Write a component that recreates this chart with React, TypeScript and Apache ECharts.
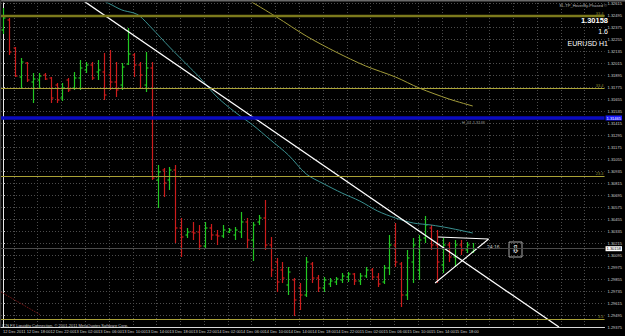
import React, { useEffect, useRef } from 'react';
import * as echarts from 'echarts';

// x-axis time labels (one every 4 hourly bars)
const timeLabels = [
  '12 Dec 2011', '12 Dec 18:00', '12 Dec 22:00', '13 Dec 02:00', '13 Dec 06:00',
  '13 Dec 10:00', '13 Dec 14:00', '13 Dec 18:00', '13 Dec 22:00', '14 Dec 02:00',
  '14 Dec 06:00', '14 Dec 10:00', '14 Dec 14:00', '14 Dec 18:00', '14 Dec 22:00',
  '15 Dec 02:00', '15 Dec 06:00', '15 Dec 10:00', '15 Dec 14:00', '15 Dec 18:00',
];

// hourly OHLC bars: [open, high, low, close]
const bars: number[][] = [
  [1.32345, 1.32565, 1.32305, 1.32465], [1.32445, 1.32465, 1.32095, 1.32125],
  [1.32165, 1.32175, 1.31875, 1.31885], [1.31875, 1.32065, 1.31765, 1.32025],
  [1.32015, 1.32025, 1.31825, 1.31845], [1.31825, 1.31915, 1.31615, 1.31855],
  [1.31845, 1.31915, 1.31765, 1.31885], [1.31895, 1.31915, 1.31845, 1.31855],
  [1.31865, 1.31875, 1.31615, 1.31665], [1.31795, 1.31815, 1.31615, 1.31645],
  [1.31665, 1.31815, 1.31635, 1.31765], [1.31845, 1.31865, 1.31725, 1.31745],
  [1.31765, 1.31925, 1.31745, 1.31865], [1.31865, 1.32045, 1.31745, 1.31965],
  [1.31945, 1.32025, 1.31915, 1.31995], [1.31995, 1.32025, 1.31845, 1.31865],
  [1.31925, 1.32045, 1.31845, 1.31945], [1.31925, 1.32115, 1.31645, 1.31695],
  [1.31895, 1.32145, 1.31745, 1.31825], [1.31825, 1.32025, 1.31675, 1.31745],
  [1.31795, 1.32015, 1.31745, 1.31975], [1.32005, 1.32365, 1.31995, 1.32105],
  [1.32095, 1.32115, 1.31875, 1.31995], [1.31995, 1.32025, 1.31765, 1.31895],
  [1.31795, 1.32125, 1.31725, 1.31965], [1.31965, 1.32025, 1.30845, 1.30865],
  [1.30845, 1.30995, 1.30565, 1.30925], [1.30945, 1.30965, 1.30675, 1.30815],
  [1.30845, 1.30975, 1.30745, 1.30945], [1.30945, 1.30995, 1.30215, 1.30365],
  [1.30365, 1.30465, 1.30075, 1.30275], [1.30295, 1.30365, 1.30265, 1.30325],
  [1.30325, 1.30425, 1.30245, 1.30315], [1.30325, 1.30395, 1.30145, 1.30185],
  [1.30185, 1.30425, 1.30165, 1.30365], [1.30365, 1.30405, 1.30245, 1.30295],
  [1.30295, 1.30345, 1.30195, 1.30285], [1.30285, 1.30395, 1.30265, 1.30345],
  [1.30325, 1.30365, 1.30315, 1.30345], [1.30295, 1.30375, 1.30245, 1.30345],
  [1.30325, 1.30525, 1.30265, 1.30425], [1.30425, 1.30465, 1.30165, 1.30245],
  [1.30245, 1.30425, 1.30035, 1.30395], [1.30425, 1.30495, 1.30395, 1.30465],
  [1.30465, 1.30645, 1.30145, 1.30195], [1.30195, 1.30275, 1.29875, 1.29945],
  [1.30025, 1.30065, 1.29725, 1.29825], [1.29945, 1.30025, 1.29815, 1.29865],
  [1.29795, 1.29975, 1.29695, 1.29925], [1.29845, 1.29865, 1.29485, 1.29645],
  [1.29765, 1.29815, 1.29545, 1.29695], [1.29695, 1.30075, 1.29675, 1.30025],
  [1.30005, 1.30025, 1.29815, 1.29865], [1.29865, 1.29895, 1.29725, 1.29765],
  [1.29765, 1.29875, 1.29725, 1.29845], [1.29805, 1.29865, 1.29775, 1.29835],
  [1.29825, 1.29875, 1.29795, 1.29855], [1.29845, 1.29915, 1.29815, 1.29885],
  [1.29875, 1.29925, 1.29825, 1.29905], [1.29905, 1.29915, 1.29795, 1.29835],
  [1.29835, 1.29915, 1.29795, 1.29885], [1.29885, 1.29975, 1.29865, 1.29945],
  [1.29945, 1.29965, 1.29845, 1.29875], [1.29875, 1.29915, 1.29775, 1.29805],
  [1.29825, 1.29995, 1.29805, 1.29965], [1.29965, 1.30295, 1.29895, 1.30195],
  [1.30195, 1.30415, 1.29975, 1.30025], [1.30005, 1.30025, 1.29575, 1.29695],
  [1.29695, 1.30145, 1.29645, 1.30065], [1.30025, 1.30265, 1.29815, 1.30195],
  [1.29945, 1.30295, 1.29845, 1.30245], [1.30265, 1.30485, 1.30215, 1.30395],
  [1.30365, 1.30395, 1.30145, 1.30195], [1.30195, 1.30345, 1.29815, 1.30025],
  [1.29995, 1.30265, 1.29915, 1.30195], [1.30195, 1.30225, 1.30025, 1.30075],
  [1.30075, 1.30245, 1.29975, 1.30195], [1.30195, 1.30245, 1.30095, 1.30145],
  [1.30145, 1.30225, 1.30115, 1.30195], [1.30125, 1.30215, 1.30115, 1.30158],
];

// fast moving average (teal)
const maFastBars = [16, 18, 20, 22, 23, 25, 28, 31, 33, 36, 39, 42, 45, 48, 51, 54, 57, 60, 63, 66, 69, 72, 75, 79];
const maFastValues = [1.3266, 1.32605, 1.32545, 1.32515, 1.32485, 1.32365, 1.32175, 1.31995, 1.31875, 1.31675,
  1.31525, 1.31395, 1.31245, 1.31095, 1.30905, 1.30805, 1.30715, 1.30635, 1.30535, 1.30465, 1.30415, 1.30395, 1.30365, 1.30315];

// slow moving average (olive)
const maSlowBars = [41, 46, 51, 56, 61, 66, 70, 75, 79];
const maSlowValues = [1.32655, 1.32475, 1.32285, 1.32125, 1.31985, 1.31875, 1.31765, 1.31655, 1.31585];

// long moving average (dark red, dotted)
const maLongBars = [-0.33, 6.33];
const maLongValues = [1.29725, 1.29495];

// trend line and triangle
const trendBars = [13.33, 93.5];
const trendValues = [1.32645, 1.29375];
const triangleBars = [73.17, 81.67, 72.67];
const triangleValues = [1.30275, 1.30255, 1.29815];

// horizontal levels
const levelValues = [1.32485, 1.31765, 1.30885, 1.29455];
const levelTexts = ['33.4', '33.4', '23.4', '3.4'];
const blueLevel = 1.31465;
const bidPrice = 1.30158;

// price scale
const priceMin = 1.29375;
const priceMax = 1.32615;
const priceStep = 0.0012;

const GREEN = '#22c822';
const RED = '#cc1c1c';

export default function App() {
  const ref = useRef<HTMLDivElement>(null);

  useEffect(() => {
    if (!ref.current) return;
    const chart = echarts.init(ref.current, null, { renderer: 'svg' });
    const dotted = { show: true, lineStyle: { color: '#4c4c4c', type: [1, 2], width: 1 } };
    const font = 'Liberation Sans';
    const pts = (xs: number[], ys: number[]) => xs.map((x, k) => [x, ys[k]]);
    // vertical grid lines every 4 bars, between label positions
    const gridBars = Array.from({ length: 26 }, (_, k) => 11 / 6 + 4 * k);
    const labelBars = timeLabels.map((_, k) => k * 4);

    const option: any = {
      animation: false,
      backgroundColor: '#000000',
      grid: { left: 0, right: 16, top: 3, bottom: 9 },
      xAxis: {
        type: 'value',
        min: -1 / 3,
        max: 607 / 6,
        axisLine: { show: true, lineStyle: { color: '#d8d8d8', width: 1 } },
        axisTick: { show: false, customValues: gridBars },
        splitLine: dotted,
        axisLabel: {
          customValues: labelBars,
          formatter: (v: number) => timeLabels[Math.round(v / 4)] ?? '',
          fontSize: 4,
          color: '#cfcfcf',
          margin: 2,
          align: 'left',
          fontFamily: font,
        },
      },
      yAxis: {
        type: 'value',
        position: 'right',
        min: priceMin,
        max: priceMax,
        interval: priceStep,
        axisLine: { show: true, lineStyle: { color: '#e8e8e8', width: 1 } },
        axisTick: { show: true, length: 2, lineStyle: { color: '#cfcfcf' } },
        splitLine: dotted,
        axisLabel: {
          formatter: (v: number) => v.toFixed(5),
          fontSize: 4,
          color: '#cfcfcf',
          margin: 3,
          fontFamily: font,
        },
      },
      series: [
        {
          type: 'line',
          name: 'levels',
          data: [],
          silent: true,
          markLine: {
            symbol: 'none',
            silent: true,
            precision: 5,
            data: [
              ...levelValues.map((v, k) => ({
                yAxis: v,
                lineStyle: { color: k === 0 ? '#7c7a1c' : '#aaa236', width: k === 0 ? 2.4 : 1.2, type: 'solid' },
                label: {
                  show: true, position: 'insideEndTop', formatter: levelTexts[k], fontSize: 4,
                  color: '#8a8630', distance: 1, fontFamily: font,
                },
              })),
              {
                yAxis: blueLevel,
                lineStyle: { color: '#0a0ac0', width: 3.5, type: 'solid' },
                label: {
                  show: true, position: 'end', formatter: blueLevel.toFixed(5), fontSize: 4,
                  color: '#ffffff', backgroundColor: '#1a1aff', padding: [0.5, 1], distance: 1, fontFamily: font,
                },
              },
              {
                yAxis: bidPrice,
                lineStyle: { color: '#4a4a4a', width: 1, type: 'solid' },
                label: {
                  show: true, position: 'end', formatter: bidPrice.toFixed(5), fontSize: 4,
                  color: '#000000', backgroundColor: '#ffffff', padding: [0.5, 1], distance: 1, fontFamily: font,
                },
              },
            ],
          },
        },
        {
          type: 'custom',
          name: 'EURUSD',
          clip: true,
          encode: { x: 0, y: [1, 2, 3, 4] },
          data: bars.map((b, i) => [i, ...b]),
          renderItem: (params: any, api: any) => {
            const x = api.value(0);
            const o = api.value(1), h = api.value(2), l = api.value(3), c = api.value(4);
            const pH = api.coord([x, h]);
            const pL = api.coord([x, l]);
            const pO = api.coord([x, o]);
            const pC = api.coord([x, c]);
            const color = c >= o ? GREEN : RED;
            const px = Math.round(pH[0]) + 0.5;
            const st = { stroke: color, lineWidth: 1.2 };
            return {
              type: 'group',
              children: [
                { type: 'line', shape: { x1: px, y1: pH[1], x2: px, y2: pL[1] }, style: st },
                { type: 'line', shape: { x1: px - 2, y1: pO[1], x2: px, y2: pO[1] }, style: st },
                { type: 'line', shape: { x1: px, y1: pC[1], x2: px + 2, y2: pC[1] }, style: st },
              ],
            };
          },
        },
        {
          type: 'line', name: 'MA slow', data: pts(maSlowBars, maSlowValues), showSymbol: false, clip: true,
          smooth: 0.3, lineStyle: { color: '#a39c3a', width: 1 }, silent: true,
        },
        {
          type: 'line', name: 'MA fast', data: pts(maFastBars, maFastValues), showSymbol: false, clip: true,
          smooth: 0.3, lineStyle: { color: '#3a9090', width: 1 }, silent: true,
        },
        {
          type: 'line', name: 'MA long', data: pts(maLongBars, maLongValues), showSymbol: false, clip: true,
          lineStyle: { color: '#8a1a1a', width: 1, type: [1, 1] }, silent: true,
        },
        {
          type: 'line', name: 'Trend', data: pts(trendBars, trendValues), showSymbol: false, clip: true,
          lineStyle: { color: '#ffffff', width: 1.3 }, silent: true,
        },
        {
          type: 'line', name: 'Triangle', data: pts(triangleBars, triangleValues), showSymbol: false, clip: true,
          lineStyle: { color: '#ffffff', width: 1.1 }, silent: true,
        },
      ],
      graphic: [
        { type: 'rect', shape: { x: 0, y: 0, width: 625, height: 1.5 }, style: { fill: '#6a6a6a' }, silent: true },
        { type: 'rect', shape: { x: 0, y: 0, width: 1.2, height: 328 }, style: { fill: '#3a3a3a' }, silent: true },
        {
          type: 'text', x: 607, y: 5, silent: true,
          style: { text: 'SL-TP_HoverBy-Phased ©', fontSize: 4, fill: '#bdbdbd', align: 'right', verticalAlign: 'middle', fontFamily: font },
        },
        {
          type: 'text', x: 608, y: 20, silent: true,
          style: { text: '1.30158', fontSize: 7.5, fontWeight: 'bold', fill: '#ffffff', align: 'right', verticalAlign: 'middle', fontFamily: font },
        },
        {
          type: 'text', x: 608, y: 31, silent: true,
          style: { text: '1.6', fontSize: 7, fill: '#ffffff', align: 'right', verticalAlign: 'middle', fontFamily: font },
        },
        {
          type: 'text', x: 608, y: 43, silent: true,
          style: { text: 'EURUSD H1', fontSize: 7, fill: '#ffffff', align: 'right', verticalAlign: 'middle', fontFamily: font },
        },
        {
          type: 'text', x: 462, y: 122, silent: true,
          style: { text: 'H_01 1.3146', fontSize: 4, fill: '#9a9a9a', align: 'left', verticalAlign: 'middle', fontFamily: font },
        },
        {
          type: 'text', x: 487, y: 247, silent: true,
          style: { text: '24:16', fontSize: 5, fill: '#c8c8c8', align: 'left', verticalAlign: 'middle', fontFamily: font },
        },
        {
          type: 'rect', shape: { x: 509, y: 242, width: 13, height: 15 }, silent: true,
          style: { fill: '#000000', stroke: '#a8a8a8', lineWidth: 1 },
        },
        {
          type: 'text', x: 515.5, y: 249.5, silent: true,
          style: { text: '⇩', fontSize: 11, fill: '#ffffff', align: 'center', verticalAlign: 'middle', fontFamily: 'DejaVu Sans' },
        },
        {
          type: 'text', x: 2, y: 325, silent: true,
          style: {
            text: 'ICN FX Liquidity Connection, © 2001-2011 MetaQuotes Software Corp.', fontSize: 4,
            fill: '#c8c8c8', align: 'left', verticalAlign: 'middle', fontFamily: font,
          },
        },
      ],
    };

    chart.setOption(option);
    return () => chart.dispose();
  }, []);

  return (
    <div
      ref={ref}
      style={{ position: 'fixed', left: 0, top: 0, width: 625, height: 336, background: '#000' }}
    />
  );
}
